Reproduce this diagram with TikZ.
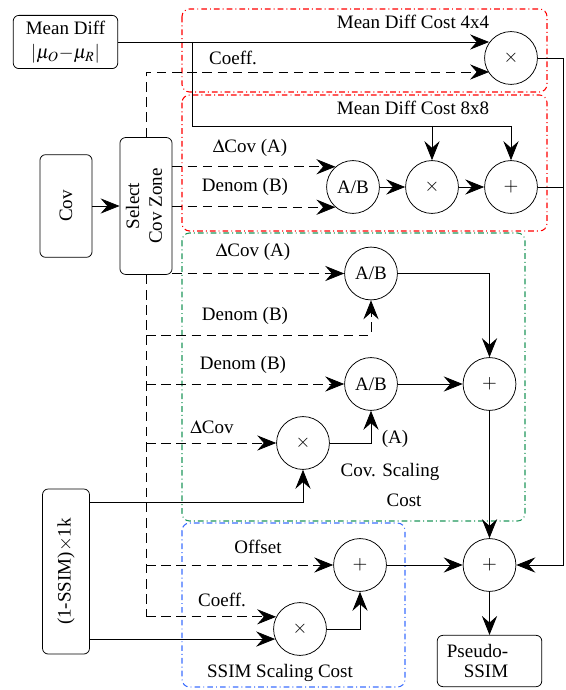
\documentclass[tikz,border=0pt]{standalone}
\usepackage{mathptmx}
\usepackage{fontspec}
\setmainfont{Liberation Serif}
\usetikzlibrary{arrows.meta,calc}

\definecolor{grpred}{RGB}{255,0,0}
\definecolor{grpgreen}{RGB}{30,150,90}
\definecolor{grpblue}{RGB}{60,110,255}

\tikzset{
  box/.style={draw, rounded corners=3pt, fill=white, inner sep=1pt, align=center},
  op/.style={draw, circle, minimum size=27.8pt, inner sep=0pt, fill=white},
  arr/.style={-{Stealth[length=10pt,width=8pt,inset=3.5pt]}},
  dsh/.style={dash pattern=on 5pt off 3pt},
  grp/.style={dash pattern=on 3pt off 1.6pt on 0.5pt off 1.6pt, rounded corners=4pt, line width=0.55pt},
  lbl/.style={inner sep=0pt},
}

\begin{document}
\begin{tikzpicture}[x=0.526pt, y=-0.526pt, font=\fontsize{10}{12}\selectfont]
\useasboundingbox (0,0) rectangle (566,690);

% cost groups
\draw[grp, grpred]   (182,9)   rectangle (547,92);
\draw[grp, grpred]   (182,95)  rectangle (547,231);
\draw[grp, grpgreen] (182,233) rectangle (525,521);
\draw[grp, grpblue]  (182,523) rectangle (405,687);

\node[lbl] (t4) at (413,22)  {Mean Diff Cost 4x4};
\node[lbl] (t8) at (413,108) {Mean Diff Cost 8x8};
\node[lbl] (tc1) at (390,472) {Cov. Scaling};
\node[lbl] (tc2) at (404,500) {Cost};
\node[lbl] (ts) at (280,673) {SSIM Scaling Cost};

% input / output blocks
\node[box, minimum width=55pt, minimum height=28pt] (md) at (65.5,42)
  {Mean Diff\\[0.5pt]$|\mu_O{-}\mu_R|$};
\node[box, minimum width=27.4pt, minimum height=54pt] (cov) at (66,206)
  {\rotatebox{90}{Cov}};
\node[box, minimum width=27.4pt, minimum height=72pt] (sel) at (146,206)
  {\rotatebox{90}{\begin{tabular}{@{}c@{}}Select\\Cov Zone\end{tabular}}};
\node[box, minimum width=24.7pt, minimum height=86.8pt] (ssim) at (66,571.5)
  {\rotatebox{90}{(1-SSIM)$\times$1k}};
\node[box, minimum width=55pt, minimum height=27pt, align=right] (pseudo) at (489.5,661)
  {Pseudo-\hspace*{12.6pt}\\[-1pt]SSIM\hspace*{12.6pt}};

% operators
\node[op] (mul4) at (511,58)   {$\times$};
\node[op] (ab1)  at (353,187)  {A/B};
\node[op] (mul8) at (432,187)  {$\times$};
\node[op] (plus8) at (511,187) {$+$};
\node[op] (ab2)  at (371,273.5) {A/B};
\node[op] (ab3)  at (371,384)  {A/B};
\node[op] (pluscov) at (489.5,384) {$+$};
\node[op] (mulcov) at (303,443) {$\times$};
\node[op] (plusssim) at (360,565) {$+$};
\node[op] (plusfin) at (489.5,565) {$+$};
\node[op] (mulssim) at (300,629) {$\times$};

% helper points
\coordinate (mdj) at (192,42);
\coordinate (mdb) at (192,126);
\coordinate (cf)  at (146,72);
\coordinate (rt)  at (563,58);

% mean difference paths
\draw[arr] (md.east) -- (md.east -| mul4.145);
\draw (mdj) -- (mdb) -- (mdb -| plus8);
\draw[arr] (mdb -| mul8) -- (mul8);
\draw[arr] (mdb -| plus8) -- (plus8);
\draw[dsh, arr] (sel.north) -- (cf) -- (cf -| mul4.215);
\node[lbl] (lcf) at (233,58) {Coeff.};

\draw[arr] (cov) -- (sel);

% 8x8 mean difference cost
\draw[dsh, arr] (sel.east |- ab1.131) -- (ab1.131);
\draw[dsh, arr] (sel.east) -- ($(sel.east)+(88,0)$) |- (ab1.229);
\node[lbl] (la1) at (250,148) {$\Delta$Cov (A)};
\node[lbl] (lb1) at (245,187) {Denom (B)};
\draw[arr] (ab1) -- (mul8);
\draw[arr] (mul8) -- (plus8);
\draw (plus8) -- (plus8 -| rt);

% covariance scaling cost
\draw[dsh] (sel.south) -- (sel.south |- mulssim.153);
\draw[dsh, arr] (sel.east |- ab2) -- (ab2);
\draw[dsh, arr] (sel.south |- 0,335) -| (ab2);
\draw[dsh, arr] (sel.south |- ab3) -- (ab3);
\draw[dsh, arr] (sel.south |- mulcov) -- (mulcov);
\node[lbl] (la2) at (253,252) {$\Delta$Cov (A)};
\node[lbl] (lb2) at (245,316) {Denom (B)};
\node[lbl] (lb3) at (243,365) {Denom (B)};
\node[lbl] (lc3) at (212,427) {$\Delta$Cov};
\draw[arr] (ssim.east |- 0,502) -| (mulcov);
\draw[arr] (mulcov) -| (ab3);
\node[lbl] (la3) at (395,439) {(A)};
\draw[arr] (ab2) -| (pluscov);
\draw[arr] (ab3) -- (pluscov);
\draw[arr] (pluscov) -- (plusfin);

% SSIM scaling cost
\draw[dsh, arr] (sel.south |- plusssim) -- (plusssim);
\draw[dsh, arr] (sel.south |- mulssim.153) -- (mulssim.153);
\node[lbl] (loff) at (258,547) {Offset};
\node[lbl] (lcf2) at (222,600) {Coeff.};
\draw[arr] (ssim.east |- mulssim.202) -- (mulssim.202);
\draw[arr] (mulssim) -| (plusssim);
\draw[arr] (plusssim) -- (plusfin);

% final sum
\draw[arr] (mul4) -- (rt) |- (plusfin);
\draw[arr] (plusfin) -- (pseudo);
\end{tikzpicture}
\end{document}
